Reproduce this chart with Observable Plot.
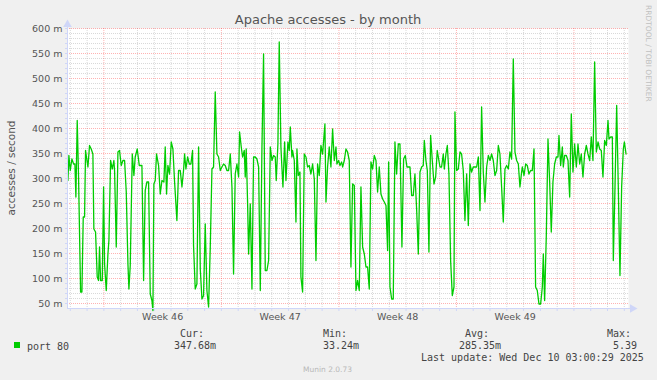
<!DOCTYPE html>
<html><head><meta charset="utf-8">
<script src="https://cdn.jsdelivr.net/npm/d3@7"></script>
<script src="https://cdn.jsdelivr.net/npm/@observablehq/plot@0.6"></script>
<style>
html,body{margin:0;padding:0;background:#f0f0f0;}
#chart svg{display:block;}
</style></head><body><div id="chart"></div>
<script>
// hours since Sun Nov 9 2025 00:00
const hours = [
-51.4,-50.0,-48.1,-45.7,-43.3,-41.4,-40.0,-38.1,-36.2,-33.3,-31.4,-29.5,-27.6,-26.2,-22.8,-20.5,-18.1,-15.7,-14.3,-11.9,-9.5,-7.6,-6.2,-4.7,-2.3,-0.4,1.0,3.4,5.8,7.2,9.6,12.0,14.3,15.3,17.7,20.1,22.4,24.8,27.2,29.6,32.0,34.4,35.8,37.7,40.6,42.9,44.8,47.7,50.6,54.4,56.8,59.1,61.5,63.9,66.3,68.7,70.1,71.5,73.4,75.3,78.2,80.6,83.0,85.8,87.7,89.6,91.5,93.9,96.3,98.7,101.1,104.4,106.8,
109.2,111.6,113.9,115.4,117.3,119.7,122.1,124.4,126.8,128.2,130.6,133.0,135.4,137.8,140.2,142.5,144.9,147.3,149.7,152.1,154.5,156.8,159.2,161.6,164.0,166.4,168.8,171.1,173.5,175.9,178.3,180.7,183.1,185.4,187.8,190.2,192.6,194.0,196.4,198.3,200.7,202.1,203.5,205.5,206.9,209.3,211.7,214.0,216.4,218.8,221.2,223.6,226.0,228.3,230.7,233.1,235.5,237.9,240.3,242.6,245.0,246.4,248.8,250.7,253.1,254.5,256.0,258.4,260.3,263.1,265.0,266.5,268.8,
269.8,272.2,274.6,276.0,277.9,280.3,281.7,284.1,286.5,288.9,291.2,293.6,296.0,298.4,300.8,303.2,305.5,307.9,310.3,312.7,316.0,317.5,319.8,322.2,324.6,327.0,329.4,331.8,333.2,335.6,337.5,339.9,341.3,343.7,346.1,348.4,350.8,353.2,355.6,358.0,360.4,362.7,365.1,367.5,369.9,372.3,374.7,377.0,379.4,381.8,384.2,386.6,389.0,391.3,393.7,396.1,398.5,400.9,403.3,405.6,407.1,409.0,411.4,413.7,416.1,418.5,420.9,423.3,426.1,428.5,430.9,433.3,
435.2,437.6,440.0,442.3,444.7,447.1,449.5,451.9,454.3,456.6,458.1,460.4,462.4,464.7,467.1,469.5,471.9,474.3,476.6,478.1,480.5,482.8,485.2,486.7,489.0,491.0,493.3,495.7,498.1,500.5,501.9,504.3,506.7,509.1,511.4,513.8,516.2,518.6,521.0,523.4,525.7,528.1,530.5,532.9,535.3,537.7,540.0,542.4,544.8,547.2,549.6,552.0,554.3,556.7,559.1,561.5,563.9,566.2,568.6,571.0,573.4,575.8,578.2,580.5,582.9,585.3,587.7,590.1,592.5,594.8,597.2,
598.2,600.6,603.0,605.3,607.7,610.1,612.5,614.9,617.2,619.6,622.0,624.4,626.8,628.2,630.1,632.5,634.9,637.3,639.6,642.0,644.4,646.8,649.2,650.6,653.0,655.4,656.8,658.7,661.1,663.5,665.9,668.2,670.6,673.0,675.4,677.8,680.2,682.5,684.9,687.3,689.7,692.1,694.5,696.8,699.2,701.6,704.0,706.4,708.8,711.1,713.5,715.9,718.3,720.7,722.1,724.5,726.9,728.3,730.7,733.1,735.4,737.8,740.2,742.6,744.1,746.5
];
// accesses per second, in milli-units (m)
const values = [
296,346,316,339,329,329,263,416,303,73,73,223,223,356,323,366,359,349,199,193,103,96,163,96,96,283,129,76,149,176,336,319,336,316,163,353,356,326,336,336,273,129,79,126,349,306,343,359,326,326,96,276,293,293,69,56,36,289,296,349,326,269,296,293,363,269,326,309,373,359,293,216,316,
316,283,316,349,319,343,329,329,356,166,79,89,363,119,59,66,209,76,43,163,319,323,473,349,343,316,323,329,326,316,316,349,283,109,309,329,303,393,363,343,356,303,359,249,149,249,79,343,343,339,323,76,363,549,116,116,136,363,336,346,343,296,369,573,363,323,283,373,296,373,356,403,343,
356,336,213,359,306,313,103,73,349,343,323,326,309,329,299,136,329,306,366,349,409,253,323,363,323,399,336,363,329,336,326,333,323,336,359,353,336,123,289,286,76,96,76,283,163,149,123,123,79,333,319,346,336,273,323,269,259,253,246,156,333,83,59,59,373,309,369,369,163,339,346,323,
323,323,266,266,309,239,149,313,323,326,376,336,316,153,386,336,289,303,356,343,323,323,349,319,349,366,309,136,66,83,433,316,319,353,349,316,216,309,206,329,313,323,323,323,343,236,443,313,253,323,346,336,349,336,306,316,366,349,283,213,319,326,319,353,339,539,353,336,329,283,313,
323,306,329,326,309,316,316,359,83,76,49,49,83,149,56,186,379,293,193,293,329,343,343,386,326,363,323,346,346,336,263,429,313,369,323,369,329,349,303,349,366,349,336,383,336,533,353,373,359,356,303,376,366,416,379,383,383,136,283,446,283,106,283,359,373,349
];
const weekLabels = ["Week 46", "Week 47", "Week 48", "Week 49"];
const weekCenters = [84, 252, 420, 588];
const weekLines = [0, 168, 336, 504, 672];
const yMajor = [50,100,150,200,250,300,350,400,450,500,550,600];
const legendHead = ["Cur:", "Min:", "Avg:", "Max:"];
const legendVals = ["347.68m", "33.24m", "285.35m", "5.39"];
const xStart = -52, xEnd = 750, yMin = 40, yMax = 600;

if (hours.length !== values.length) console.error("length mismatch", hours.length, values.length);
const data = hours.map((h, i) => ({h, v: values[i]}));
const dayLines = d3.range(-48, 750, 24).filter(d => !weekLines.includes(d));
const allDays = d3.range(-48, 750, 24);
const yMinor = d3.range(50, 601, 10).filter(d => d % 50 !== 0);
const yAll = d3.range(50, 601, 10);
const axisCol = "#cfd6f8";
const font = "DejaVu Sans, sans-serif";

const plot = Plot.plot({
  width: 657, height: 380,
  marginLeft: 67, marginRight: 29, marginTop: 28, marginBottom: 72,
  style: {background: "#f0f0f0", fontFamily: font, overflow: "visible"},
  x: {domain: [xStart, xEnd]},
  y: {domain: [yMin, yMax]},
  marks: [
    Plot.frame({fill: "#ffffff", stroke: null}),
    Plot.ruleY(yMinor, {stroke: "#bababa", strokeOpacity: 0.55, strokeDasharray: "1,1"}),
    Plot.ruleX(dayLines, {stroke: "#bababa", strokeOpacity: 0.55, strokeDasharray: "1,1"}),
    Plot.ruleY(yMajor, {stroke: "#ff0000", strokeOpacity: 0.3, strokeDasharray: "1,1"}),
    Plot.ruleX(weekLines, {stroke: "#ff0000", strokeOpacity: 0.3, strokeDasharray: "1,1"}),
    Plot.ruleX(allDays, {y1: yMin, y2: yMin, insetBottom: -3, stroke: axisCol}),
    Plot.ruleY(yAll, {x1: xStart, x2: xStart, insetLeft: -2, stroke: axisCol}),
    Plot.line(data, {x: "h", y: "v", stroke: "#00cc00", strokeWidth: 1.3}),
    Plot.ruleY([yMin], {stroke: axisCol, insetRight: -3}),
    Plot.ruleX([xStart], {stroke: axisCol, insetTop: -4}),
    Plot.dot([{x: xEnd, y: yMin}], {x: "x", y: "y", symbol: "triangle", r: 3.2, fill: axisCol, stroke: null, rotate: 90, dx: 4}),
    Plot.dot([{x: xStart, y: yMax}], {x: "x", y: "y", symbol: "triangle", r: 3.2, fill: axisCol, stroke: null, dy: -4}),
    Plot.axisY({ticks: yMajor, tickFormat: d => `${d} m`, tickSize: 0, tickPadding: 5, fontSize: 9.5, fill: "#555", label: null}),
    Plot.axisX({ticks: weekCenters, tickFormat: d => weekLabels[weekCenters.indexOf(d)], tickSize: 0, tickPadding: 5, fontSize: 9.5, fill: "#555", label: null})
  ]
});

const svg = d3.select(plot);
const txt = (x, y, t, opts = {}) => svg.append("text")
  .attr("x", x).attr("y", y)
  .attr("text-anchor", opts.anchor || "start")
  .attr("font-family", opts.family || font)
  .attr("font-size", opts.size || 10)
  .attr("fill", opts.fill || "#444")
  .attr("transform", opts.transform || null)
  .text(t);

txt(328, 24, "Apache accesses - by month", {anchor: "middle", size: 13, fill: "#555"});
txt(0, 0, "accesses / second", {anchor: "middle", size: 10.5, fill: "#555", transform: "translate(15,168) rotate(-90)"});
txt(0, 0, "RRDTOOL / TOBI OETIKER", {size: 7.5, fill: "#c0c0c0", transform: "translate(645.8,5) rotate(90)"});
txt(327.5, 371.8, "Munin 2.0.73", {anchor: "middle", size: 7.5, fill: "#b8b8b8"});

const mono = "DejaVu Sans Mono, monospace";
svg.append("rect").attr("x", 14).attr("y", 342).attr("width", 6).attr("height", 6).attr("fill", "#00cc00");
txt(27, 349.5, "port 80", {family: mono});
const headX = [180, 323, 465, 607];
const valX = [174, 323, 459, 613];
legendHead.forEach((t, i) => txt(headX[i], 336.5, t, {family: mono}));
legendVals.forEach((t, i) => txt(valX[i], 348.8, t, {family: mono}));
txt(421, 360.5, "Last update: Wed Dec 10 03:00:29 2025", {family: mono});

document.getElementById("chart").appendChild(plot);
</script>
</body></html>
